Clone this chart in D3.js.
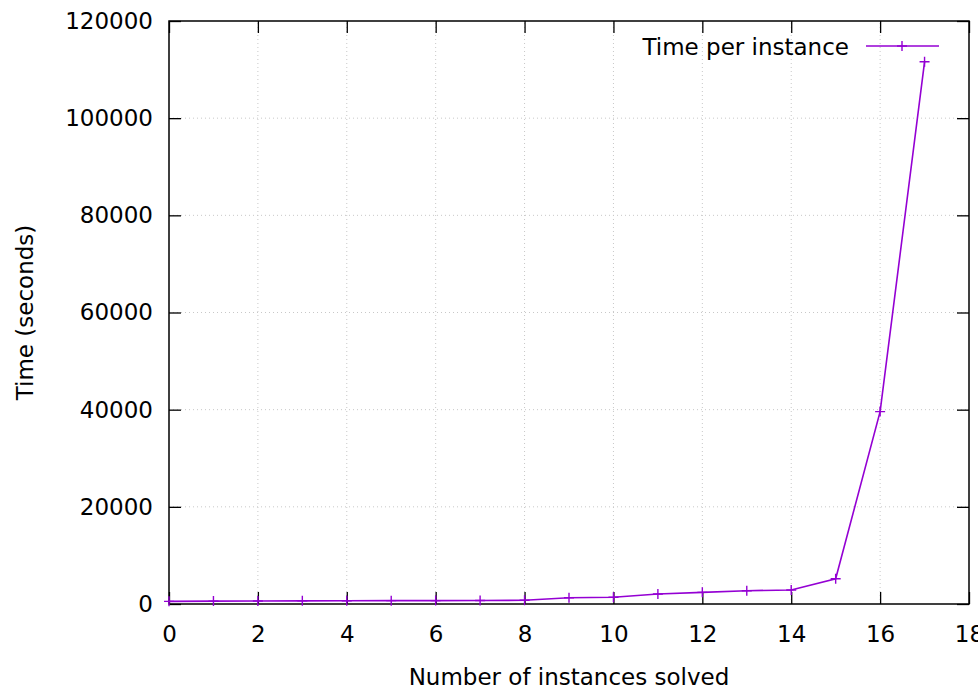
<!DOCTYPE html>
<html>
<head>
<meta charset="utf-8">
<script src="https://cdn.jsdelivr.net/npm/d3@7"></script>
<style>
  body { margin: 0; background: #fff; }
  svg { display: block; font-family: "DejaVu Sans", sans-serif; }
</style>
</head>
<body>
<div id="chart"></div>
<script>
// instances solved / time in seconds
const instances = [0, 1, 2, 3, 4, 5, 6, 7, 8, 9, 10, 11, 12, 13, 14, 15, 16, 17];
const times = [550, 600, 620, 650, 680, 690, 700, 710, 760, 1300, 1400, 2060, 2400, 2740, 2880, 5200, 39600, 111600];
const xTicks = [0, 2, 4, 6, 8, 10, 12, 14, 16, 18];
const yTicks = [0, 20000, 40000, 60000, 80000, 100000, 120000];
const seriesName = 'Time per instance';

const width = 978;
const height = 687;
const margin = { top: 21, right: 9, bottom: 83, left: 169 };
const color = '#9400d3';

const svg = d3.select('#chart')
  .append('svg')
  .attr('width', width)
  .attr('height', height);

const x = d3.scaleLinear()
  .domain([0, 18])
  .range([margin.left, width - margin.right]);

const y = d3.scaleLinear()
  .domain([0, 120000])
  .range([height - margin.bottom, margin.top]);

// grille pointillée
const grid = svg.append('g')
  .attr('stroke', '#c8c8c8')
  .attr('stroke-width', 1)
  .attr('stroke-dasharray', '1,3');

grid.selectAll('.vg')
  .data(xTicks.slice(1, -1))
  .join('line')
  .attr('x1', d => x(d)).attr('x2', d => x(d))
  .attr('y1', y(0)).attr('y2', y(120000));

grid.selectAll('.hg')
  .data(yTicks.slice(1, -1))
  .join('line')
  .attr('x1', x(0)).attr('x2', x(18))
  .attr('y1', d => y(d)).attr('y2', d => y(d));

// axes (ticks vers l'intérieur)
const fontSize = '23px';

svg.append('g')
  .attr('transform', `translate(0, ${y(0)})`)
  .call(d3.axisBottom(x).tickValues(xTicks).tickSize(-12).tickPadding(22).tickFormat(d3.format('d')))
  .call(g => g.select('.domain').remove())
  .call(g => g.selectAll('line').attr('stroke', '#000').attr('stroke-width', 1.3))
  .call(g => g.selectAll('text').attr('font-size', fontSize).attr('fill', '#000').attr('font-family', '"DejaVu Sans", sans-serif'));

svg.append('g')
  .attr('transform', `translate(0, ${y(120000)})`)
  .call(d3.axisTop(x).tickValues(xTicks).tickSize(-12).tickFormat(''))
  .call(g => g.select('.domain').remove())
  .call(g => g.selectAll('line').attr('stroke', '#000').attr('stroke-width', 1.3));

svg.append('g')
  .attr('transform', `translate(${x(0)}, 0)`)
  .call(d3.axisLeft(y).tickValues(yTicks).tickSize(-12).tickPadding(16).tickFormat(d3.format('d')))
  .call(g => g.select('.domain').remove())
  .call(g => g.selectAll('line').attr('stroke', '#000').attr('stroke-width', 1.3))
  .call(g => g.selectAll('text').attr('font-size', fontSize).attr('fill', '#000').attr('font-family', '"DejaVu Sans", sans-serif'));

svg.append('g')
  .attr('transform', `translate(${x(18)}, 0)`)
  .call(d3.axisRight(y).tickValues(yTicks).tickSize(-12).tickFormat(''))
  .call(g => g.select('.domain').remove())
  .call(g => g.selectAll('line').attr('stroke', '#000').attr('stroke-width', 1.3));

// cadre
svg.append('rect')
  .attr('x', x(0))
  .attr('y', y(120000))
  .attr('width', x(18) - x(0))
  .attr('height', y(0) - y(120000))
  .attr('fill', 'none')
  .attr('stroke', '#000')
  .attr('stroke-width', 1.5);

// courbe
const data = instances.map((d, i) => ({ n: d, t: times[i] }));

svg.append('path')
  .datum(data)
  .attr('fill', 'none')
  .attr('stroke', color)
  .attr('stroke-width', 1.6)
  .attr('d', d3.line().x(d => x(d.n)).y(d => y(d.t)));

const plus = d3.symbol().type(d3.symbolCross);
function drawPlus(sel, cx, cy) {
  const s = 5;
  sel.append('path')
    .attr('d', `M${cx - s},${cy}H${cx + s}M${cx},${cy - s}V${cy + s}`)
    .attr('stroke', color)
    .attr('stroke-width', 1.4)
    .attr('fill', 'none');
}

const marks = svg.append('g');
data.forEach(d => drawPlus(marks, x(d.n), y(d.t)));

// légende
const legend = svg.append('g');
legend.append('text')
  .attr('x', 849)
  .attr('y', 47)
  .attr('dy', '0.35em')
  .attr('text-anchor', 'end')
  .attr('font-size', fontSize)
  .text(seriesName);
legend.append('line')
  .attr('x1', 866).attr('x2', 939)
  .attr('y1', 46).attr('y2', 46)
  .attr('stroke', color)
  .attr('stroke-width', 1.6);
drawPlus(legend, 902, 46);

// titres des axes
svg.append('text')
  .attr('x', (x(0) + x(18)) / 2)
  .attr('y', 677)
  .attr('dy', '0.35em')
  .attr('text-anchor', 'middle')
  .attr('font-size', fontSize)
  .text('Number of instances solved');

svg.append('text')
  .attr('transform', `translate(25, ${(y(0) + y(120000)) / 2}) rotate(-90)`)
  .attr('dy', '0.35em')
  .attr('text-anchor', 'middle')
  .attr('font-size', fontSize)
  .text('Time (seconds)');
</script>
</body>
</html>
